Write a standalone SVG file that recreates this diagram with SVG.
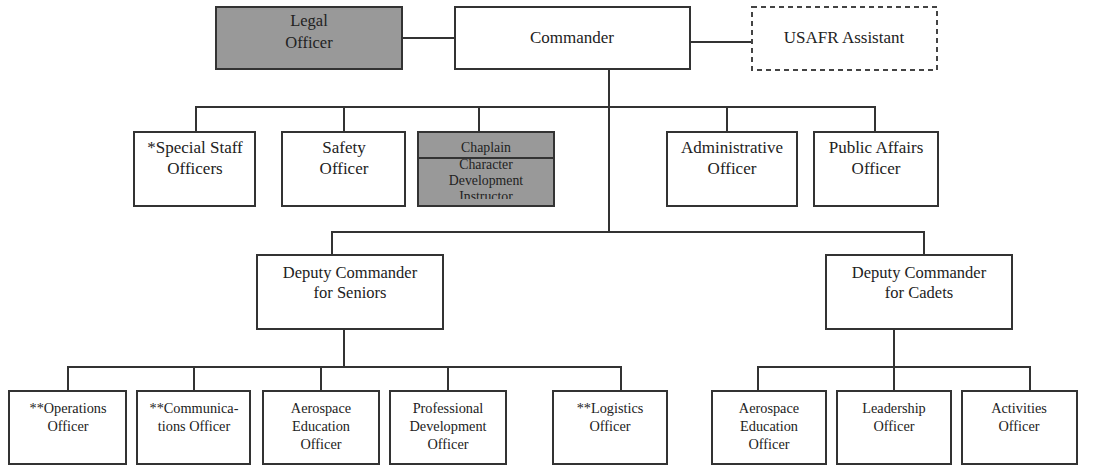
<svg xmlns="http://www.w3.org/2000/svg" width="1108" height="466" viewBox="0 0 1108 466">
<style>
.b{fill:#fff;stroke:#333;stroke-width:2}
.g{fill:#999;stroke:#333;stroke-width:2}
.d{fill:#fff;stroke:#444;stroke-width:2;stroke-dasharray:5 4}
.c{fill:none;stroke:#333;stroke-width:2}
text{font-family:"Liberation Serif","Times New Roman",serif;fill:#222;text-anchor:middle}
.t1{font-size:17px}
.t2{font-size:16.5px}
.t3{font-size:14.3px}
.t4{font-size:13.8px}
</style>
<defs>
<clipPath id="chapClip"><rect x="418" y="132" width="136" height="67"/></clipPath>
</defs>
<rect width="1108" height="466" fill="#fff"/>
<g id="connectors">
<path class="c" d="M402 38H455"/>
<path class="c" d="M690 42H752"/>
<path class="c" d="M609 69V232"/>
<path class="c" d="M196 132V107H875V132"/>
<path class="c" d="M344 107V132M479 107V132M727 107V132"/>
<path class="c" d="M332 255V232H924V255"/>
<path class="c" d="M344 329V367"/>
<path class="c" d="M68 391V367H621V391"/>
<path class="c" d="M194 367V391M321 367V391M448 367V391"/>
<path class="c" d="M894 329V391"/>
<path class="c" d="M758 391V367H1030V391"/>
</g>
<g id="legal"><rect class="g" x="216" y="7" width="186" height="62"/><text class="t2" x="309" y="26">Legal</text><text class="t2" x="309" y="48">Officer</text></g>
<g id="commander"><rect class="b" x="455" y="7" width="235" height="62"/><text class="t1" x="572" y="43">Commander</text></g>
<g id="usafr"><rect class="d" x="752" y="7" width="185" height="63"/><text class="t1" x="844" y="43">USAFR Assistant</text></g>
<g id="special"><rect class="b" x="134" y="132" width="121" height="74"/><text class="t1" x="195" y="153">*Special Staff</text><text class="t1" x="195" y="174">Officers</text></g>
<g id="safety"><rect class="b" x="282" y="132" width="123" height="74"/><text class="t1" x="344" y="153">Safety</text><text class="t1" x="344" y="174">Officer</text></g>
<g id="chaplain"><rect class="g" x="418" y="132" width="136" height="74"/><path class="c" d="M418 158H554"/>
<g clip-path="url(#chapClip)"><text class="t4" x="486" y="152">Chaplain</text><text class="t4" x="486" y="169">Character</text><text class="t4" x="486" y="185">Development</text><text class="t4" x="486" y="201">Instructor</text></g></g>
<g id="admin"><rect class="b" x="667" y="132" width="130" height="74"/><text class="t1" x="732" y="153">Administrative</text><text class="t1" x="732" y="174">Officer</text></g>
<g id="public"><rect class="b" x="814" y="132" width="124" height="74"/><text class="t1" x="876" y="153">Public Affairs</text><text class="t1" x="876" y="174">Officer</text></g>
<g id="depSeniors"><rect class="b" x="257" y="255" width="186" height="74"/><text class="t2" x="350" y="278">Deputy Commander</text><text class="t2" x="350" y="298">for Seniors</text></g>
<g id="depCadets"><rect class="b" x="826" y="255" width="186" height="74"/><text class="t2" x="919" y="278">Deputy Commander</text><text class="t2" x="919" y="298">for Cadets</text></g>
<g id="ops"><rect class="b" x="9" y="391" width="117" height="73"/><text class="t3" x="68" y="413">**Operations</text><text class="t3" x="68" y="431">Officer</text></g>
<g id="comms"><rect class="b" x="137" y="391" width="113" height="73"/><text class="t3" x="194" y="413">**Communica-</text><text class="t3" x="194" y="431">tions Officer</text></g>
<g id="aeroS"><rect class="b" x="263" y="391" width="116" height="73"/><text class="t3" x="321" y="413">Aerospace</text><text class="t3" x="321" y="431">Education</text><text class="t3" x="321" y="449">Officer</text></g>
<g id="prof"><rect class="b" x="390" y="391" width="116" height="73"/><text class="t3" x="448" y="413">Professional</text><text class="t3" x="448" y="431">Development</text><text class="t3" x="448" y="449">Officer</text></g>
<g id="logistics"><rect class="b" x="553" y="391" width="114" height="73"/><text class="t3" x="610" y="413">**Logistics</text><text class="t3" x="610" y="431">Officer</text></g>
<g id="aeroC"><rect class="b" x="712" y="391" width="114" height="73"/><text class="t3" x="769" y="413">Aerospace</text><text class="t3" x="769" y="431">Education</text><text class="t3" x="769" y="449">Officer</text></g>
<g id="leadership"><rect class="b" x="837" y="391" width="114" height="73"/><text class="t3" x="894" y="413">Leadership</text><text class="t3" x="894" y="431">Officer</text></g>
<g id="activities"><rect class="b" x="962" y="391" width="115" height="73"/><text class="t3" x="1019" y="413">Activities</text><text class="t3" x="1019" y="431">Officer</text></g>
</svg>
